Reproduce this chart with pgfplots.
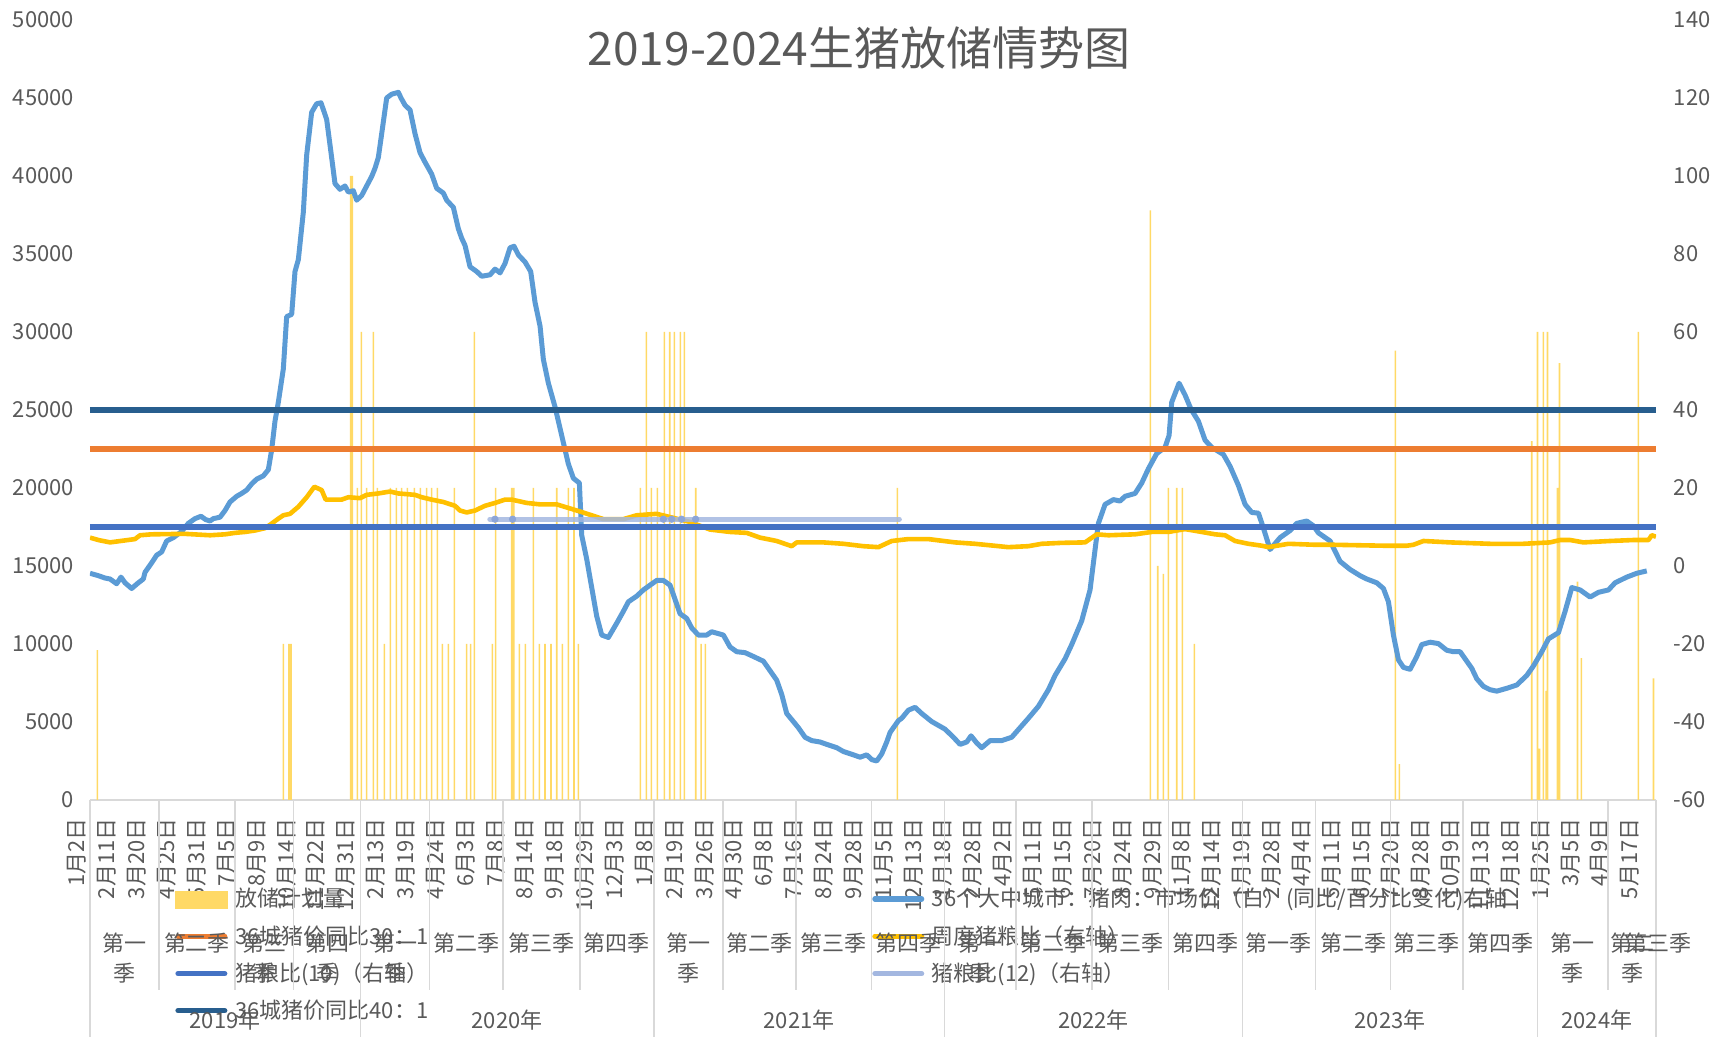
\documentclass[border=0pt]{standalone}
\usepackage{fontspec}
\setmainfont{Noto Sans CJK SC}
\usepackage{pgfplots}
\usepackage{pgfplotstable}
\pgfplotsset{compat=1.18}
\definecolor{txt}{HTML}{595959}
\definecolor{axgray}{HTML}{D9D9D9}
\definecolor{barc}{HTML}{FFD966}
\definecolor{pricec}{HTML}{5B9BD5}
\definecolor{ratioc}{HTML}{FFC000}
\definecolor{orangec}{HTML}{ED7D31}
\definecolor{darkc}{HTML}{285E8E}
\definecolor{midc}{HTML}{4472C4}
\definecolor{lightc}{HTML}{A3B7E0}
\definecolor{dotc}{HTML}{8CA5D8}
\newcommand\tf{\fontsize{11}{13}\selectfont}

% reserve plan volume (left axis)
\pgfplotstableread{
u L
0.674 9600
6.903 10000
7.093 10000
7.160 10000
9.158 40000
9.214 40000
9.382 20000
9.515 30000
9.694 20000
9.917 30000
10.051 20000
10.286 10000
10.487 20000
10.688 20000
10.866 20000
11.056 20000
11.291 20000
11.491 20000
11.703 20000
11.871 20000
12.061 20000
12.228 10000
12.429 10000
12.630 20000
13.043 10000
13.177 10000
13.300 30000
13.903 10000
14.014 20000
14.551 20000
14.618 20000
14.807 10000
15.008 10000
15.276 20000
15.477 10000
15.667 10000
15.868 10000
16.058 20000
16.247 10000
16.448 20000
16.638 20000
16.783 10000
18.860 20000
19.061 30000
19.228 20000
19.429 20000
19.663 30000
19.842 30000
19.998 30000
20.199 30000
20.333 30000
20.713 20000
20.892 10000
21.036 10000
27.467 20000
35.939 37800
36.185 15000
36.374 14500
36.542 20000
36.821 20000
37.011 20000
37.413 10000
44.144 28800
44.278 2300
48.710 23000
48.900 30000
48.967 3300
49.100 30000
49.190 7000
49.235 30000
49.570 20000
49.637 28000
50.240 14000
50.373 9100
52.282 30000
52.785 7800
}\bardata

% 36-city pork price YoY (right axis)
\pgfplotstableread{
u v
0.429 -1.87
0.708 -2.48
0.931 -3.09
1.098 -3.33
1.322 -4.55
1.467 -2.85
1.601 -4.31
1.824 -5.77
2.047 -4.31
2.215 -3.33
2.271 -1.63
2.494 0.81
2.661 2.76
2.829 3.61
2.996 6.41
3.220 7.27
3.498 8.85
3.722 10.93
3.945 12.14
4.146 12.75
4.302 11.90
4.447 11.53
4.559 12.14
4.782 12.51
4.950 14.22
5.117 16.41
5.341 17.87
5.508 18.60
5.675 19.46
5.843 21.04
6.010 22.26
6.234 23.11
6.401 24.70
6.513 29.81
6.624 37.13
6.736 42.00
6.903 50.53
7.015 63.93
7.183 64.54
7.294 75.51
7.406 78.56
7.573 90.74
7.685 105.37
7.852 116.33
8.020 118.53
8.165 118.77
8.354 114.51
8.500 105.98
8.633 98.06
8.801 96.59
8.968 97.45
9.080 95.86
9.248 96.23
9.359 93.79
9.527 95.01
9.694 97.45
9.862 99.88
9.973 101.96
10.085 104.76
10.197 110.85
10.364 120.00
10.532 120.97
10.755 121.45
10.844 120.00
10.978 118.16
11.146 116.94
11.313 110.85
11.481 105.98
11.648 103.54
11.871 100.49
12.039 96.84
12.262 95.62
12.373 93.79
12.597 91.96
12.764 86.48
12.876 84.04
12.987 82.21
13.155 76.73
13.378 75.51
13.546 74.29
13.824 74.66
13.992 76.12
14.104 75.51
14.160 75.15
14.327 77.58
14.495 81.60
14.629 81.97
14.774 79.78
14.997 77.95
15.187 75.51
15.332 67.59
15.500 61.50
15.611 52.97
15.779 46.87
16.002 40.78
16.225 33.47
16.448 26.16
16.616 22.50
16.817 21.28
16.895 7.88
17.062 1.78
17.230 -5.53
17.397 -12.84
17.565 -17.71
17.788 -18.32
18.067 -14.67
18.290 -11.62
18.458 -9.18
18.737 -7.72
18.960 -6.14
19.183 -4.92
19.407 -3.70
19.630 -3.70
19.853 -4.92
20.021 -8.57
20.188 -12.23
20.412 -13.45
20.579 -15.89
20.802 -17.71
21.081 -17.71
21.249 -16.86
21.639 -17.71
21.862 -20.76
22.086 -21.98
22.365 -22.22
22.644 -23.20
22.979 -24.41
23.202 -26.85
23.425 -29.29
23.593 -32.94
23.760 -37.82
23.983 -39.89
24.151 -41.47
24.374 -43.91
24.598 -44.77
24.877 -45.13
25.100 -45.74
25.435 -46.59
25.658 -47.57
25.993 -48.42
26.216 -49.03
26.440 -48.42
26.607 -49.64
26.774 -50.00
26.942 -48.18
27.109 -45.13
27.221 -42.69
27.500 -39.65
27.611 -39.04
27.835 -36.97
28.058 -36.24
28.281 -37.82
28.616 -39.89
29.062 -41.84
29.342 -43.91
29.565 -45.74
29.788 -45.13
29.933 -43.55
30.123 -45.38
30.290 -46.59
30.570 -44.77
30.960 -44.77
31.295 -43.91
31.574 -41.47
31.853 -39.04
32.188 -35.99
32.523 -31.73
32.746 -28.07
33.081 -23.80
33.304 -20.15
33.639 -14.05
33.918 -6.13
34.086 4.22
34.197 10.93
34.421 15.80
34.700 17.02
34.923 16.65
35.090 17.87
35.425 18.60
35.649 21.28
35.872 24.94
36.151 28.84
36.430 30.42
36.564 33.47
36.653 42.00
36.899 46.87
37.100 43.83
37.300 40.17
37.546 37.13
37.770 32.25
37.993 30.42
38.384 28.59
38.607 25.55
38.886 20.67
39.110 15.80
39.333 13.73
39.556 13.55
39.724 9.71
39.947 4.22
40.282 7.27
40.617 9.10
40.840 10.93
41.175 11.53
41.398 10.31
41.566 8.49
41.956 6.41
42.291 1.18
42.626 -0.89
42.961 -2.48
43.184 -3.33
43.519 -4.31
43.742 -5.77
43.910 -9.18
44.077 -17.71
44.245 -24.05
44.412 -26.00
44.635 -26.49
44.859 -23.20
45.026 -20.15
45.305 -19.54
45.584 -19.90
45.863 -21.61
46.087 -21.98
46.310 -21.98
46.533 -24.41
46.701 -26.24
46.868 -28.92
47.091 -30.87
47.315 -31.73
47.538 -32.09
47.873 -31.36
48.208 -30.51
48.542 -28.07
48.766 -25.63
49.045 -21.98
49.268 -18.69
49.603 -17.10
49.826 -11.62
50.050 -5.53
50.329 -6.14
50.664 -7.97
50.943 -6.75
51.278 -6.14
51.500 -4.31
51.891 -2.85
52.226 -1.87
52.561 -1.26
}\pricedata

% weekly hog-grain ratio (right axis)
\pgfplotstableread{
u v
0.429 7.27
0.708 6.66
1.098 6.05
1.936 6.90
2.103 7.88
2.494 8.12
3.610 8.24
4.447 7.88
4.950 8.12
5.285 8.49
5.620 8.73
5.954 9.10
6.289 9.70
6.457 10.56
6.736 12.14
6.903 13.00
7.127 13.37
7.406 15.19
7.685 17.63
7.942 20.31
8.187 19.46
8.321 17.02
8.857 17.02
9.080 17.63
9.471 17.39
9.694 18.24
10.085 18.60
10.476 19.09
10.755 18.60
11.313 18.24
11.536 17.63
11.871 17.02
12.262 16.41
12.652 15.43
12.820 14.22
13.043 13.73
13.322 14.22
13.657 15.43
13.992 16.17
14.327 17.02
14.551 17.02
15.053 16.17
15.500 15.80
16.058 15.80
16.839 13.97
17.620 12.02
18.290 12.02
18.737 13.00
19.407 13.37
19.742 12.75
20.523 11.29
21.193 9.34
21.862 8.73
22.421 8.49
22.867 7.27
23.425 6.41
23.928 5.08
24.095 6.05
24.988 6.05
25.658 5.69
26.328 5.08
26.830 4.83
27.277 6.41
27.835 6.90
28.504 6.90
29.397 6.05
30.067 5.69
31.183 4.83
31.853 5.08
32.300 5.69
32.970 5.93
33.751 6.05
34.142 8.12
34.532 7.88
35.425 8.12
35.984 8.73
36.542 8.73
37.100 9.46
37.658 8.73
38.105 8.12
38.440 7.88
38.775 6.41
39.221 5.69
39.668 5.20
39.891 4.83
40.561 5.69
41.454 5.44
42.068 5.44
43.742 5.20
44.524 5.20
44.747 5.44
45.082 6.41
45.975 6.05
47.315 5.69
48.431 5.69
49.324 6.05
49.659 6.66
49.994 6.66
50.440 6.05
51.333 6.41
52.115 6.66
52.617 6.66
52.728 7.88
52.870 7.51
}\ratiodata

\begin{document}
\begin{tikzpicture}
\path[use as bounding box] (-45pt,-118.5pt) rectangle (812.5pt,400pt);

% ---------- left axis: bars ----------
\begin{axis}[
  at={(0pt,0pt)}, anchor=south west,
  scale only axis, width=783pt, height=390pt,
  xmin=0.429, xmax=52.87, ymin=0, ymax=50000,
  axis x line*=bottom, axis y line*=left,
  x axis line style={-, draw=axgray, line width=1pt},
  y axis line style={draw=none},
  major tick length=0pt,
  ytick={0,5000,...,50000},
  scaled y ticks=false,
  /pgf/number format/assume math mode=true,
  yticklabel style={/pgf/number format/1000 sep={}, font=\tf, text=txt, anchor=east, inner sep=0pt, xshift=-7.8pt},
  xtick={0.43,1.43,...,52.5},
  xticklabels={1月2日,2月11日,3月20日,4月25日,5月31日,7月5日,8月9日,10月14日,11月22日,12月31日,2月13日,3月19日,4月24日,6月3日,7月8日,8月14日,9月18日,10月29日,12月3日,1月8日,2月19日,3月26日,4月30日,6月8日,7月16日,8月24日,9月28日,11月5日,12月13日,1月18日,2月28日,4月2日,5月11日,6月15日,7月20日,8月24日,9月29日,11月8日,12月14日,1月19日,2月28日,4月4日,5月11日,6月15日,7月20日,8月28日,10月9日,11月13日,12月18日,1月25日,3月5日,4月9日,5月17日},
  xticklabel style={xshift=-6.4pt, yshift=-9pt, rotate=90, anchor=east, inner sep=0pt, font=\tf, text=txt},
]
\addplot[ybar, bar width=0.8pt, bar shift=0pt, fill=barc, draw=none] table[x=u, y=L] {\bardata};
\end{axis}

% ---------- right axis: lines ----------
\begin{axis}[
  at={(0pt,0pt)}, anchor=south west,
  scale only axis, width=783pt, height=390pt,
  xmin=0.429, xmax=52.87, ymin=-60, ymax=140,
  axis line style={draw=none},
  major tick length=0pt,
  xtick=\empty,
  ytick={-60,-40,...,140},
  ytick pos=right, yticklabel pos=right,
  /pgf/number format/assume math mode=true,
  yticklabel style={font=\tf, text=txt, anchor=west, inner sep=0pt, xshift=8.7pt},
  legend columns=2,
  legend cell align=left,
  legend style={at={(axis description cs:0.05428,-0.1031)}, anchor=north west,
    draw=none, fill=none, inner sep=0pt, outer sep=0pt, row sep=0pt, column sep=0pt,
    nodes={inner xsep=3.75pt, inner ysep=0pt, minimum height=18.6pt, text=txt, font=\tf, anchor=base west}},
]
\addplot[forget plot, pricec, line width=2.5pt, line join=round] table[x=u, y=v] {\pricedata};
\addplot[forget plot, ratioc, line width=2.3pt, line join=round] table[x=u, y=v] {\ratiodata};
\addplot[forget plot, midc, line width=2.7pt] coordinates {(0.429,10) (52.87,10)};
\addplot[forget plot, lightc, line width=2.6pt, line cap=round, opacity=0.85] coordinates {(13.82,12) (27.53,12)};
\addplot[forget plot, dotc, only marks, mark=*, mark size=1.6pt, mark options={fill=dotc, draw=dotc}] coordinates {(13.99,12) (14.58,12) (19.63,12) (19.91,12) (20.24,12) (20.71,12)};
\addplot[forget plot, orangec, line width=2.7pt] coordinates {(0.429,30) (52.87,30)};
\addplot[forget plot, darkc, line width=2.7pt] coordinates {(0.429,40) (52.87,40)};

\addlegendimage{legend image code/.code={\fill[barc] (0pt,-0.5pt) rectangle (26pt,8pt);}}
\addlegendentry{\makebox[314.75pt][l]{放储计划量}}
\addlegendimage{legend image code/.code={\draw[pricec, line width=2.6pt, line cap=round] (1.3pt,4pt) -- (24.7pt,4pt);}}
\addlegendentry{36个大中城市：猪肉：市场价（白）(同比/百分比变化)右轴}
\addlegendimage{legend image code/.code={\draw[orangec, line width=2.6pt, line cap=round] (1.3pt,4pt) -- (24.7pt,4pt);}}
\addlegendentry{\makebox[314.75pt][l]{36城猪价同比30：1}}
\addlegendimage{legend image code/.code={\draw[ratioc, line width=2.6pt, line cap=round] (1.3pt,4pt) -- (24.7pt,4pt);}}
\addlegendentry{周度猪粮比（右轴）}
\addlegendimage{legend image code/.code={\draw[midc, line width=2.6pt, line cap=round] (1.3pt,4pt) -- (24.7pt,4pt);}}
\addlegendentry{\makebox[314.75pt][l]{猪粮比(10)（右轴）}}
\addlegendimage{legend image code/.code={\draw[lightc, line width=2.6pt, line cap=round] (1.3pt,4pt) -- (24.7pt,4pt);}}
\addlegendentry{猪粮比(12)（右轴）}
\addlegendimage{legend image code/.code={\draw[darkc, line width=2.6pt, line cap=round] (1.3pt,4pt) -- (24.7pt,4pt);}}
\addlegendentry{\makebox[314.75pt][l]{36城猪价同比40：1}}
\end{axis}

% ---------- multi-level category axis ----------
\begin{scope}[axgray, line width=0.8pt]
\foreach \x in {34.55,72.4,101.75,169.75,206.5,244.9,316.6,353,390.7,463,500.9,539.3,612.7,650.25,686.6,759.1}
  \draw (\x pt,0pt) -- (\x pt,-95pt);
\foreach \x in {0,135.2,281.9,427.3,576.2,723.8,783}
  \draw (\x pt,0pt) -- (\x pt,-118.5pt);
\end{scope}
\begin{scope}[every node/.style={font=\tf, text=txt, inner sep=0pt, anchor=center}]
% single-line quarter labels
\foreach \x/\t in {53.5/第二季,188.1/第二季,225.7/第三季,263.4/第四季,334.8/第二季,371.85/第三季,409/第四季,481.95/第二季,520.1/第三季,557.75/第四季,594.45/第一季,631.5/第二季,668.4/第三季,705.2/第四季,784/第三季}
  \node at (\x pt,-71.5pt) {\t};
% two-line quarter labels
\foreach \x/\t in {17.3/第一,87.1/第三,118.5/第四,152.5/第一,299.25/第一,445.15/第一,741.45/第一,771.05/第二}
  {\node at (\x pt,-71.5pt) {\t}; \node at (\x pt,-86.75pt) {季};}
% years
\foreach \x/\t in {67.6/2019年,208.55/2020年,354.6/2021年,501.75/2022年,650/2023年,753.4/2024年}
  \node at (\x pt,-110pt) {\t};
\end{scope}

% title
\node[font=\fontsize{23}{27}\selectfont, text=txt, inner sep=0pt] at (384.5pt,376pt) {2019-2024生猪放储情势图};
\end{tikzpicture}
\end{document}
